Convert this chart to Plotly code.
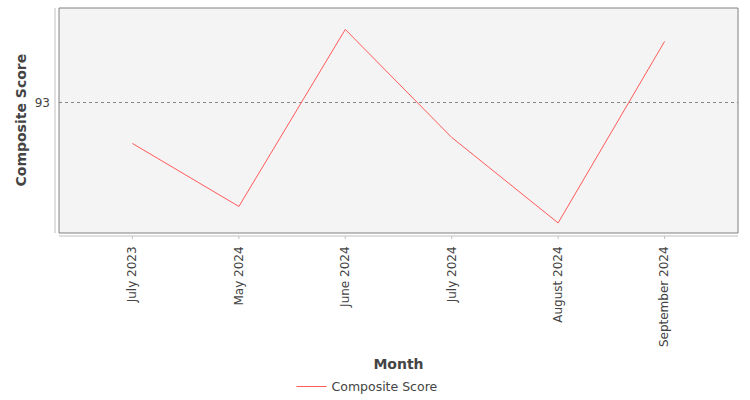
import plotly.graph_objects as go

# data
months = ["July 2023", "May 2024", "June 2024", "July 2024", "August 2024", "September 2024"]
scores = [92.73, 92.31, 93.49, 92.77, 92.20, 93.41]

fig = go.Figure()
fig.add_trace(go.Scatter(
    x=months, y=scores, mode="lines", name="Composite Score",
    line=dict(color="#ff5a5a", width=1),
))

# plot box and detached axis lines
shapes = [
    dict(type="rect", xref="paper", yref="paper", x0=0, x1=1, y0=0, y1=1,
         line=dict(color="#808080", width=1), fillcolor="rgba(0,0,0,0)", layer="above"),
    dict(type="line", xref="paper", yref="paper", x0=-4 / 679, x1=-4 / 679, y0=0, y1=1,
         line=dict(color="#c0c0c0", width=1)),
    dict(type="line", xref="paper", yref="paper", x0=0, x1=1, y0=-3 / 225, y1=-3 / 225,
         line=dict(color="#c0c0c0", width=1)),
]
for m in months:
    shapes.append(dict(type="line", xref="x", yref="paper", x0=m, x1=m,
                       y0=-3 / 225, y1=-6 / 225, line=dict(color="#c0c0c0", width=1)))

fig.update_layout(
    width=750, height=400,
    margin=dict(l=59, r=12, t=8, b=167, autoexpand=False),
    paper_bgcolor="white",
    plot_bgcolor="#f4f4f4",
    font=dict(family="DejaVu Sans", color="#444444", size=12),
    shapes=shapes,
    showlegend=True,
    legend=dict(orientation="h", xref="container", x=0.49, xanchor="center",
                y=-0.684, yanchor="middle",
                font=dict(size=12.5, color="#444444")),
    xaxis=dict(
        type="category", range=[-0.69, 5.69], automargin=False,
        showgrid=False, showline=False, zeroline=False, ticks="",
        tickangle=-90, ticklabelstandoff=10, tickfont=dict(size=12),
        title=dict(text="<b>Month</b>", font=dict(size=14, color="#444444"), standoff=13),
    ),
    yaxis=dict(
        range=[92.133, 93.633], dtick=1, tick0=93, automargin=False,
        showgrid=True, gridcolor="#888888", griddash="dot", gridwidth=1,
        showline=False, zeroline=False, ticks="", ticklabelstandoff=8,
        tickfont=dict(size=12),
    ),
    # y title as an annotation, plotly kept misplacing the axis title
    annotations=[dict(
        text="<b>Composite Score</b>", textangle=-90, showarrow=False,
        xref="paper", yref="paper", x=(20 - 59) / 679, y=0.5,
        xanchor="center", yanchor="middle",
        font=dict(size=14, color="#444444"),
    )],
)

# page body has a default margin; drop it so the figure sits at 0,0
fig.write_html("out.html", config={"displayModeBar": False},
               post_script="document.body.style.margin='0';")
